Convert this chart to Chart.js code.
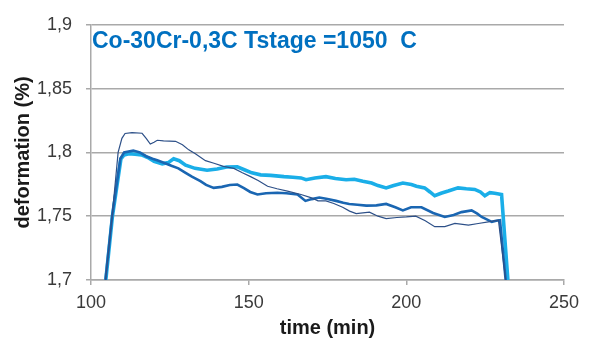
<!DOCTYPE html>
<html>
<head>
<meta charset="utf-8">
<script src="https://cdn.jsdelivr.net/npm/chart.js@4/dist/chart.umd.min.js"></script>
<style>
  html, body { margin: 0; padding: 0; background: #ffffff; }
  #wrap { width: 590px; height: 341px; }
</style>
</head>
<body>
<div id="wrap"><canvas id="c" width="590" height="341"></canvas></div>
<script>
// ---- data ----
const chartTitle = 'Co-30Cr-0,3C Tstage =1050  C';
const xTitle = 'time (min)';
const yTitle = 'deformation (%)';
const xTickValues = [100, 150, 200, 250];
const xTickLabels = ['100', '150', '200', '250'];
const yTickValues = [1.7, 1.75, 1.8, 1.85, 1.9];
const yTickLabels = ['1,7', '1,75', '1,8', '1,85', '1,9'];

// thin dark navy series
const timeThin = [104.6, 106.7, 108.6, 109.8, 110.8, 113, 116.2, 117.5, 118.8, 120, 121, 123, 126.8, 129, 131, 133.1, 136.3, 139, 142, 145.3, 148, 150.6, 153, 156, 159, 162.3, 166.6, 169.7, 172, 174.5, 177, 179.8, 182, 184.1, 188.3, 191, 193.6, 197, 200, 203, 206, 209, 212.2, 215.4, 219.7, 222.8, 226, 229.2, 231.5];
const defThin = [1.700, 1.750, 1.800, 1.811, 1.8148, 1.8155, 1.815, 1.811, 1.8065, 1.808, 1.8095, 1.809, 1.8087, 1.806, 1.802, 1.7989, 1.7935, 1.7915, 1.789, 1.7875, 1.784, 1.781, 1.778, 1.7735, 1.7715, 1.7697, 1.767, 1.7646, 1.762, 1.762, 1.760, 1.757, 1.754, 1.752, 1.7532, 1.750, 1.7481, 1.749, 1.7494, 1.750, 1.7465, 1.7418, 1.7418, 1.7443, 1.743, 1.7443, 1.7456, 1.7469, 1.700];

// medium blue series
const timeMid = [104.6, 106.7, 109.3, 110.5, 113.4, 115.5, 117.5, 119.5, 121, 123.5, 125.5, 127.7, 130, 132, 134.7, 136.5, 138.9, 141.5, 144, 146.4, 148.5, 150.5, 152.8, 155.5, 159.1, 162, 165.5, 168, 170, 172.4, 175, 177.7, 180, 181.9, 184.5, 187.3, 190.5, 193.6, 196.5, 198.9, 201.5, 204.8, 208.5, 212.2, 215, 217.5, 220.7, 222.5, 223.9, 225.5, 227.1, 228.5, 229.7, 231.5];
const defMid = [1.700, 1.750, 1.795, 1.800, 1.8014, 1.800, 1.797, 1.795, 1.7938, 1.7915, 1.7895, 1.7875, 1.784, 1.781, 1.7775, 1.7745, 1.7722, 1.773, 1.7745, 1.7748, 1.772, 1.769, 1.767, 1.768, 1.7684, 1.768, 1.767, 1.762, 1.7634, 1.7646, 1.7635, 1.762, 1.7605, 1.7596, 1.759, 1.7583, 1.7585, 1.7596, 1.757, 1.7545, 1.757, 1.757, 1.7525, 1.7494, 1.751, 1.7532, 1.7545, 1.752, 1.7494, 1.7475, 1.7456, 1.7465, 1.7469, 1.700];

// thick light blue series
const timeLight = [104.7, 106.8, 109.5, 110.5, 112, 114, 116, 118, 120, 122.6, 124.5, 126.2, 128, 130, 133, 136.8, 140, 143, 146.4, 149, 151, 153.8, 157, 161.2, 164, 166.6, 168.2, 171, 174.5, 177.5, 180.9, 183.5, 186.2, 189, 191, 193.6, 196, 198.9, 201.6, 203.2, 205.8, 207.5, 209, 211, 213.3, 216.4, 219, 221.7, 223.5, 224.9, 226.5, 228, 230.2, 232.2];
const defLight = [1.700, 1.750, 1.795, 1.798, 1.799, 1.7985, 1.798, 1.796, 1.793, 1.791, 1.792, 1.795, 1.7935, 1.790, 1.7875, 1.786, 1.787, 1.7885, 1.7887, 1.786, 1.784, 1.7824, 1.782, 1.781, 1.7805, 1.780, 1.7786, 1.780, 1.781, 1.7795, 1.7786, 1.779, 1.7773, 1.776, 1.774, 1.7722, 1.774, 1.776, 1.7748, 1.7735, 1.7722, 1.769, 1.766, 1.768, 1.7697, 1.7722, 1.7715, 1.771, 1.769, 1.766, 1.7685, 1.768, 1.767, 1.700];

const toPoints = (ts, vs) => ts.map((t, i) => ({ x: t, y: vs[i] }));

const FONT = '"Liberation Sans", Arial, sans-serif';
const GRID = '#a9a9a9';
const TEXT = '#3a3a3a';

const inTitle = {
  id: 'inTitle',
  afterDatasetsDraw(chart) {
    const { ctx, chartArea } = chart;
    ctx.save();
    ctx.font = 'bold 23px ' + FONT;
    ctx.fillStyle = '#0070C0';
    ctx.textBaseline = 'alphabetic';
    ctx.textAlign = 'left';
    ctx.fillText(chartTitle, chartArea.left + 1, chartArea.top + 23);
    ctx.restore();
  }
};

new Chart(document.getElementById('c'), {
  type: 'line',
  data: {
    datasets: [
      { label: 'thin', data: toPoints(timeThin, defThin), borderColor: '#2d5088', borderWidth: 1.2, pointRadius: 0, tension: 0, fill: false },
      { label: 'mid', data: toPoints(timeMid, defMid), borderColor: '#1a66b2', borderWidth: 2.6, pointRadius: 0, tension: 0, fill: false },
      { label: 'light', data: toPoints(timeLight, defLight), borderColor: '#1aaee8', borderWidth: 3.6, pointRadius: 0, tension: 0, fill: false }
    ]
  },
  options: {
    responsive: false,
    animation: false,
    devicePixelRatio: 1,
    layout: { padding: { top: 17, right: 26, bottom: 0, left: 0 } },
    plugins: { legend: { display: false }, tooltip: { enabled: false }, title: { display: false } },
    scales: {
      x: {
        type: 'linear',
        min: 100, max: 250,
        afterBuildTicks: (s) => { s.ticks = xTickValues.map(v => ({ value: v })); },
        afterFit: (s) => { s.height = 61; },
        ticks: {
          callback: (v) => xTickLabels[xTickValues.indexOf(v)],
          font: { family: FONT, size: 18 },
          color: TEXT,
          padding: 7,
          maxRotation: 0
        },
        grid: { drawOnChartArea: false, drawTicks: true, tickLength: 5, color: GRID, lineWidth: 1.5 },
        border: { display: true, color: GRID, width: 1.5 },
        title: { display: true, text: xTitle, font: { family: FONT, size: 20, weight: 'bold' }, color: '#1a1a1a', padding: { top: 0, bottom: 1 } }
      },
      y: {
        type: 'linear',
        min: 1.7, max: 1.9,
        afterBuildTicks: (s) => { s.ticks = yTickValues.map(v => ({ value: v })); },
        afterFit: (s) => { s.width = 91; },
        ticks: {
          callback: (v) => yTickLabels[yTickValues.findIndex(t => Math.abs(t - v) < 1e-9)],
          font: { family: FONT, size: 18 },
          color: TEXT,
          padding: 14
        },
        grid: { drawOnChartArea: true, drawTicks: true, tickLength: 5, color: GRID, lineWidth: 1.5 },
        border: { display: true, color: GRID, width: 1.5 },
        title: { display: true, text: yTitle, font: { family: FONT, size: 20, weight: 'bold' }, color: '#1a1a1a', padding: { top: 11, bottom: 0 } }
      }
    }
  },
  plugins: [inTitle]
});
</script>
</body>
</html>
